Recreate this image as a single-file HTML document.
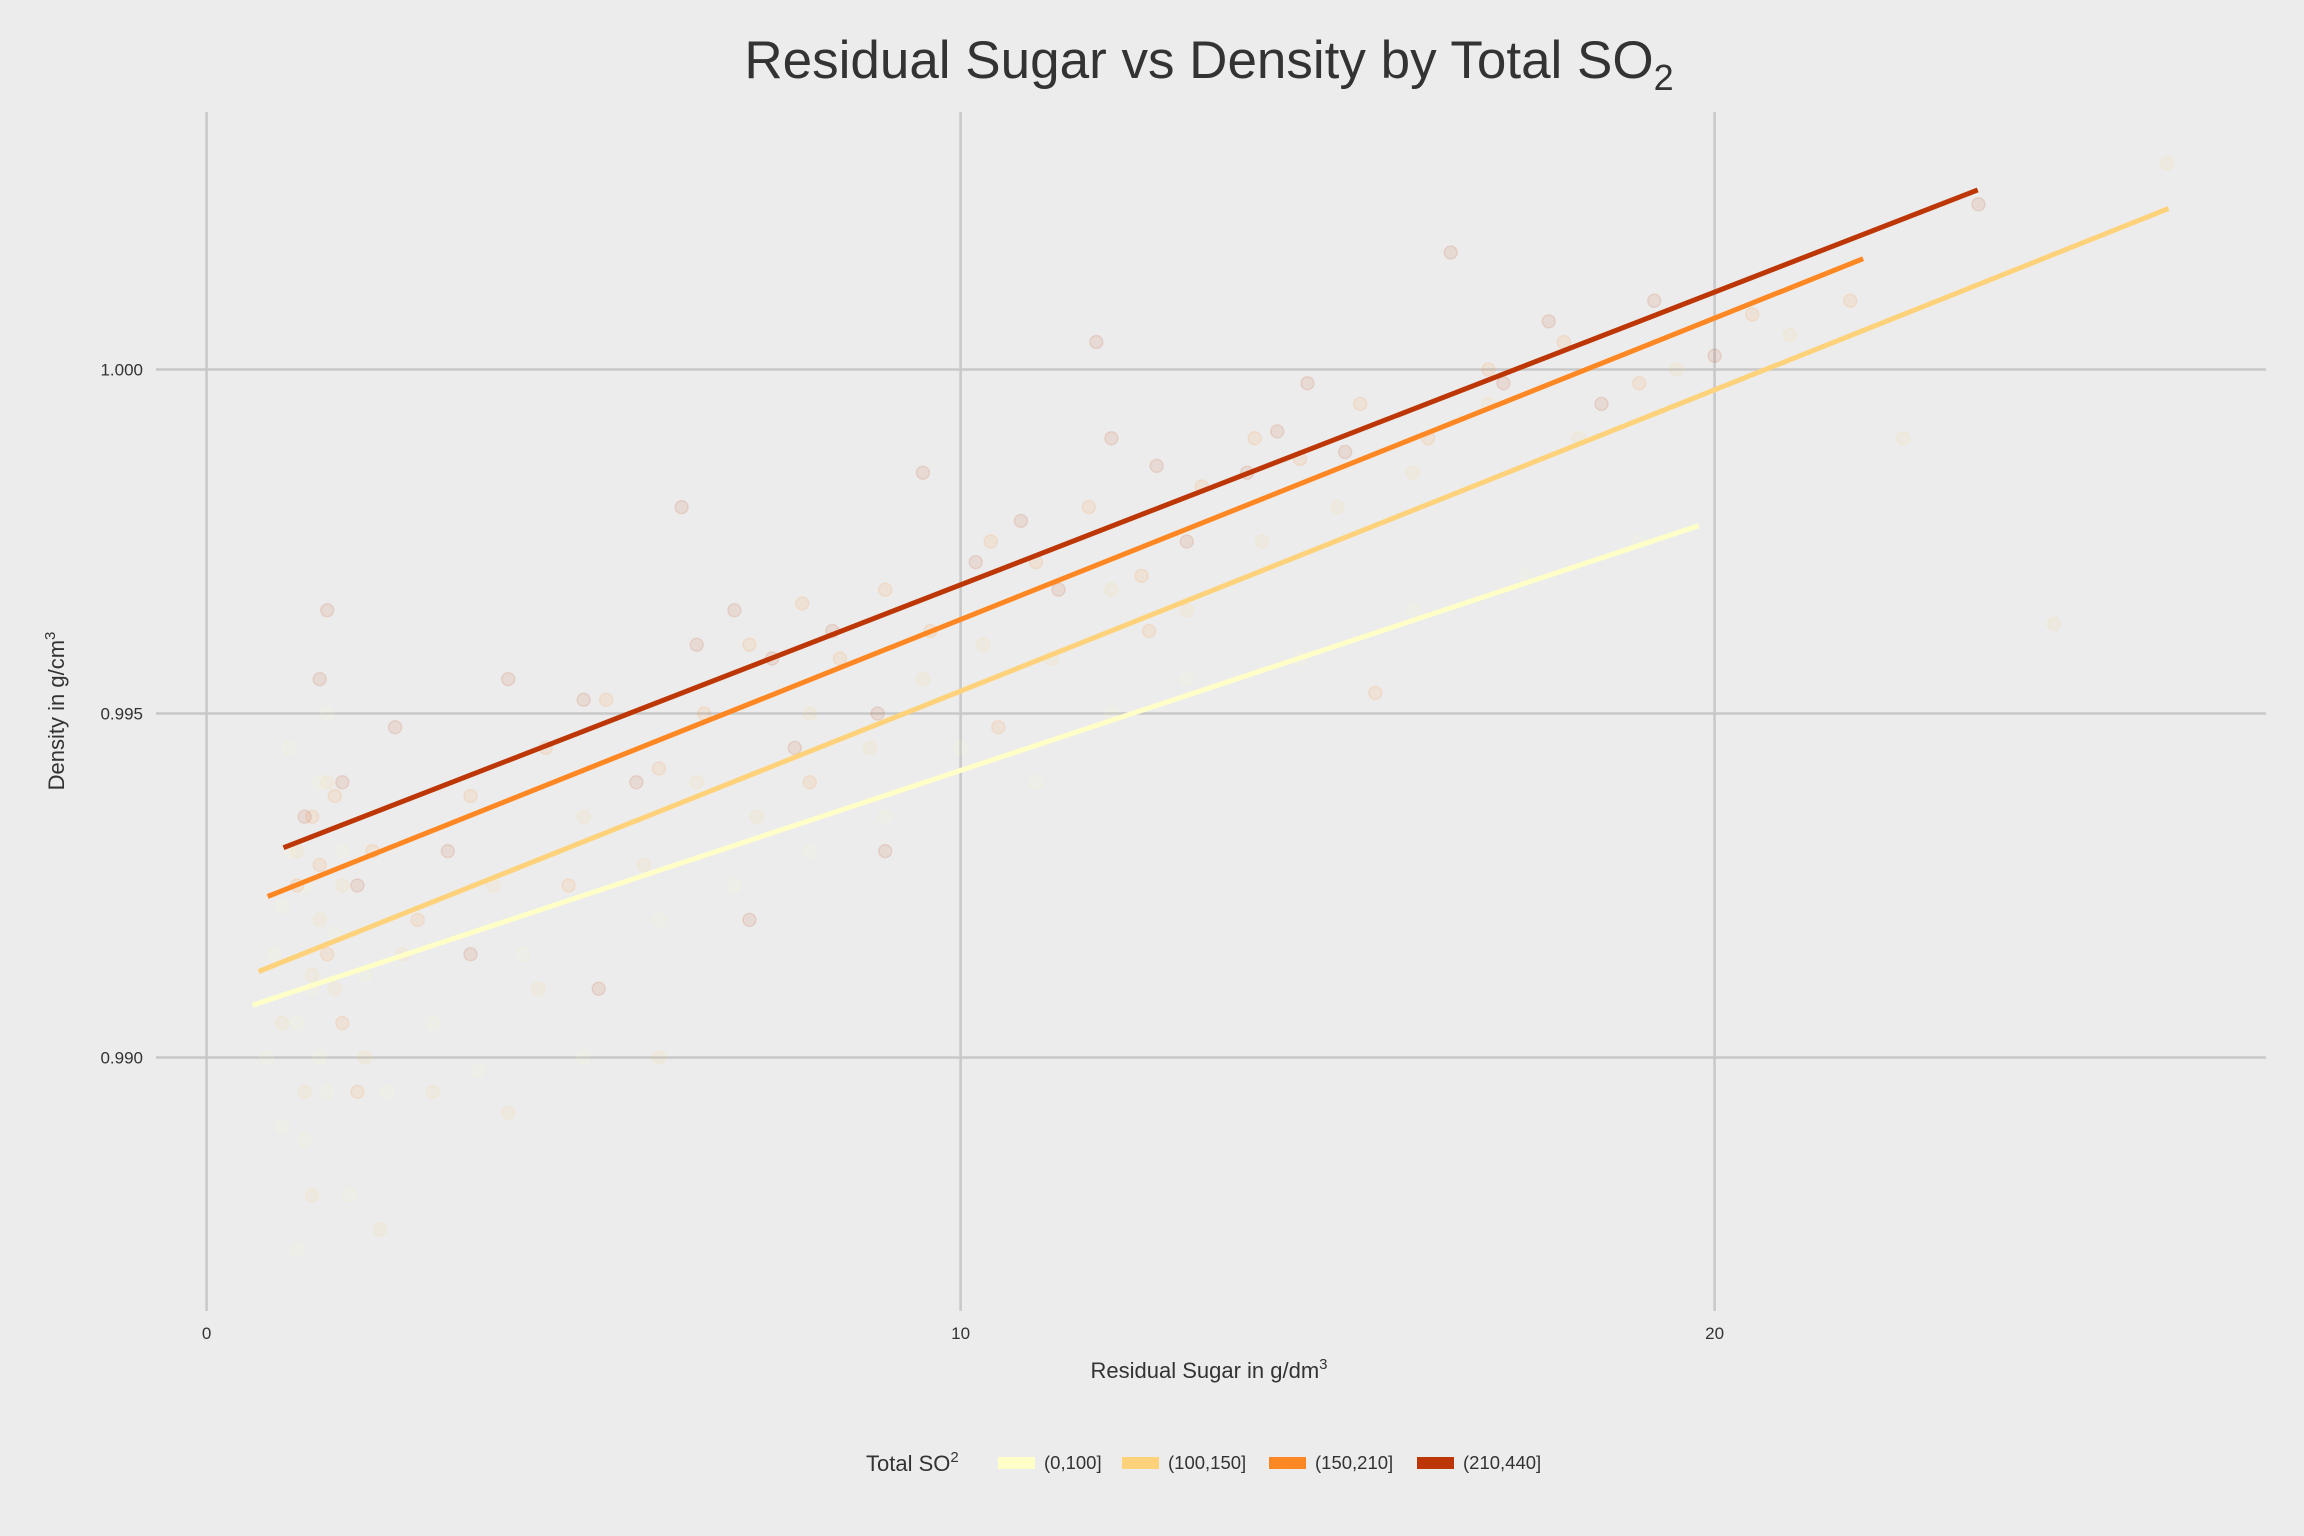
<!DOCTYPE html>
<html><head><meta charset="utf-8">
<style>
html,body{margin:0;padding:0;background:#ececec;}
svg{display:block;font-family:"Liberation Sans",sans-serif;}
</style></head>
<body>
<svg id="chart" width="2304" height="1536" viewBox="0 0 2304 1536" xmlns="http://www.w3.org/2000/svg">
<rect x="0" y="0" width="2304" height="1536" fill="#ececec"/>
<text x="1209" y="78" text-anchor="middle" font-size="53" fill="#333">Residual Sugar vs Density by Total SO<tspan font-size="36" dy="12">2</tspan></text>
<g id="grid"></g>
<g id="points"></g>
<g id="lines"></g>
<g id="axes"></g>
<text x="1209" y="1378" text-anchor="middle" font-size="22" fill="#333">Residual Sugar in g/dm<tspan font-size="15" dy="-9">3</tspan></text>
<text transform="translate(64,711) rotate(-90)" text-anchor="middle" font-size="22" fill="#333">Density in g/cm<tspan font-size="15" dy="-9">3</tspan></text>
<g id="legend">
<text x="866" y="1471" font-size="22" fill="#333">Total SO<tspan font-size="15" dy="-9">2</tspan></text>
</g>
</svg>
<script>
const xTicks=[0,10,20];
const yTicks=[0.990,0.995,1.000];
const yTickLabels=["0.990","0.995","1.000"];
const groups=["(0,100]","(100,150]","(150,210]","(210,440]"];
const colors=["#ffffc8","#fed27a","#fd8722","#bd3706"];
const lineX0=[0.61,0.69,0.81,1.02];
const lineY0=[0.99076,0.99125,0.99234,0.99305];
const lineX1=[19.79,26.02,21.97,23.49];
const lineY1=[0.99773,1.00234,1.00161,1.00261];
const pts1=[[0.8,0.9900],[1.0,0.9890],[1.2,0.9872],[1.4,0.9910],[1.6,0.9895],[1.9,0.9880],[2.4,0.9895],[3.0,0.9905],[3.6,0.9898],[4.2,0.9915],[5.0,0.9900],[6.0,0.9920],[7.0,0.9925],[8.0,0.9930],[9.0,0.9935],[10.0,0.9945],[11.0,0.9940],[12.0,0.9950],[13.0,0.9955],[14.5,0.9958],[16.0,0.9965],[17.5,0.9970],[19.0,0.9975],[1.1,0.9930],[1.5,0.9940],[0.9,0.9915],[1.2,0.9905],[1.3,0.9925],[1.5,0.9900],[1.7,0.9918],[1.0,0.9922],[1.3,0.9888],[1.8,0.9930],[2.1,0.9912],[1.6,0.9950],[1.1,0.9945]];
const pts2=[[1.0,0.9905],[1.3,0.9895],[1.5,0.9920],[1.7,0.9910],[2.1,0.9900],[2.6,0.9915],[3.0,0.9895],[3.8,0.9925],[4.4,0.9910],[5.0,0.9935],[5.8,0.9928],[6.5,0.9940],[7.3,0.9935],[8.0,0.9950],[8.8,0.9945],[9.5,0.9955],[10.3,0.9960],[11.2,0.9958],[12.0,0.9968],[13.0,0.9965],[14.0,0.9975],[15.0,0.9980],[16.0,0.9985],[17.0,0.9995],[18.2,0.9990],[19.5,1.0000],[21.0,1.0005],[22.5,0.9990],[26.0,1.0030],[24.5,0.9963],[1.4,0.9880],[2.3,0.9875],[6.0,0.9900],[4.0,0.9892],[1.2,0.9930],[1.6,0.9940],[1.4,0.9912],[1.8,0.9925]];
const pts3=[[1.2,0.9925],[1.4,0.9935],[1.6,0.9915],[1.8,0.9905],[2.2,0.9930],[2.8,0.9920],[3.5,0.9938],[4.5,0.9945],[5.3,0.9952],[6.0,0.9942],[6.6,0.9950],[7.2,0.9960],[7.9,0.9966],[8.4,0.9958],[9.0,0.9968],[9.6,0.9962],[10.4,0.9975],[11.0,0.9972],[11.7,0.9980],[12.4,0.9970],[13.2,0.9983],[13.9,0.9990],[14.5,0.9987],[15.3,0.9995],[16.2,0.9990],[17.0,1.0000],[18.0,1.0004],[19.0,0.9998],[20.5,1.0008],[21.8,1.0010],[12.5,0.9962],[8.0,0.9940],[4.8,0.9925],[2.0,0.9895],[15.5,0.9953],[10.5,0.9948],[1.5,0.9928],[1.7,0.9938]];
const pts4=[[1.3,0.9935],[1.5,0.9955],[1.8,0.9940],[2.0,0.9925],[1.6,0.9965],[2.5,0.9948],[3.2,0.9930],[4.0,0.9955],[5.0,0.9952],[5.7,0.9940],[6.3,0.9980],[6.5,0.9960],[7.0,0.9965],[7.5,0.9958],[7.8,0.9945],[8.3,0.9962],[8.9,0.9950],[9.5,0.9985],[10.2,0.9972],[10.8,0.9978],[11.3,0.9968],[12.0,0.9990],[12.6,0.9986],[13.0,0.9975],[13.8,0.9985],[14.2,0.9991],[14.6,0.9998],[15.1,0.9988],[16.5,1.0017],[17.2,0.9998],[17.8,1.0007],[18.5,0.9995],[19.2,1.0010],[20.0,1.0002],[23.5,1.0024],[11.8,1.0004],[9.0,0.9930],[7.2,0.9920],[5.2,0.9910],[3.5,0.9915]];
const allPts=[pts1,pts2,pts3,pts4];

const NS="http://www.w3.org/2000/svg";
const PL=156,PR=2266,PT=112,PB=1311;
function sx(v){return 206.6+v*75.4;}
function sy(v){return 369.5-(v-1.0)*68800;}
function mk(tag,attrs,parent){const e=document.createElementNS(NS,tag);for(const k in attrs)e.setAttribute(k,attrs[k]);parent.appendChild(e);return e;}

const grid=document.getElementById('grid');
xTicks.forEach((t,i)=>{
  const l=mk('line',{x1:sx(t),x2:sx(t),y1:PT,y2:PB,stroke:'#c8c8c8','stroke-width':2.5},grid);
  
  
});
yTicks.forEach((t,i)=>{
  const l=mk('line',{x1:PL,x2:PR,y1:sy(t),y2:sy(t),stroke:'#c8c8c8','stroke-width':2.5},grid);
  
  
});
const axes=document.getElementById('axes');
xTicks.forEach((t,i)=>{
  const tx=mk('text',{x:sx(t),y:1339,'text-anchor':'middle','font-size':17,fill:'#333'},axes);
  tx.textContent=String(t);
  
  
});
yTicks.forEach((t,i)=>{
  const tx=mk('text',{x:143,y:sy(t)+6,'text-anchor':'end','font-size':17,fill:'#333'},axes);
  tx.textContent=yTickLabels[i];
  
  
});
const pg=document.getElementById('points');
allPts.forEach((arr,g)=>{
  arr.forEach(p=>{
    const c=mk('circle',{cx:sx(p[0]),cy:sy(p[1]),r:6.5,fill:colors[g],'fill-opacity':0.1,stroke:colors[g],'stroke-opacity':0.12,'stroke-width':1.5},pg);
    
    
  });
});
const lg=document.getElementById('lines');
groups.forEach((g,i)=>{
  const l=mk('line',{x1:sx(lineX0[i]),y1:sy(lineY0[i]),x2:sx(lineX1[i]),y2:sy(lineY1[i]),stroke:colors[i],'stroke-width':5},lg);
  
  
});
const leg=document.getElementById('legend');
const keyX=[998,1122,1269,1417];
groups.forEach((g,i)=>{
  const r=mk('rect',{x:keyX[i],y:1457,width:37,height:12,fill:colors[i]},leg);
  
  
  const c=mk('circle',{cx:keyX[i]+18.5,cy:1463,r:5,fill:colors[i]},leg);
  
  
  const t=mk('text',{x:keyX[i]+46,y:1469,'font-size':18.5,fill:'#333'},leg);
  t.textContent=g;
  
  
});
</script>
</body></html>
